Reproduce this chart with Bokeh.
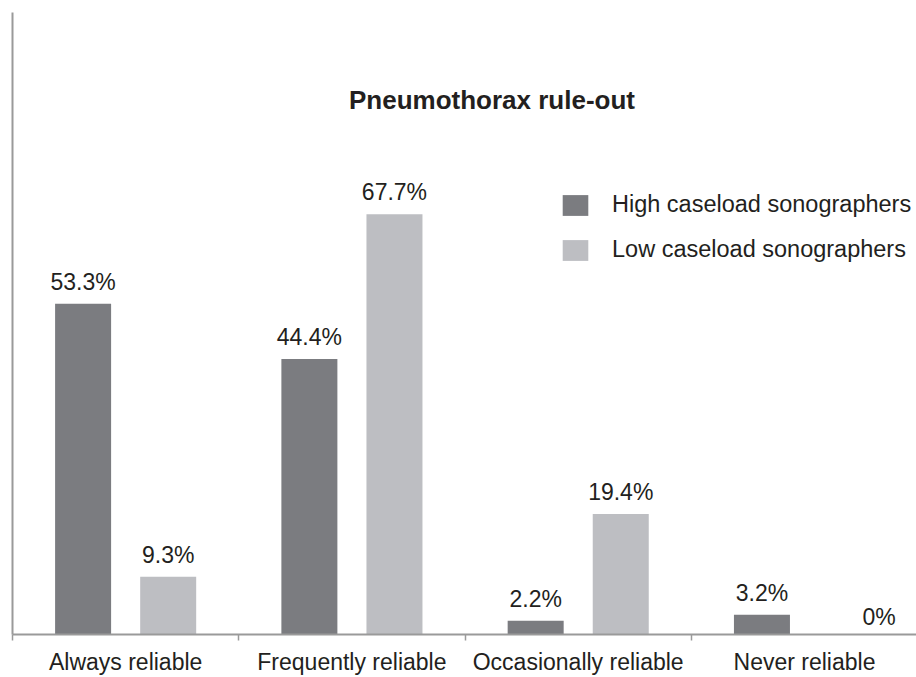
from bokeh.plotting import figure
from bokeh.models import Range1d, FixedTicker, ColumnDataSource, LabelSet, Label, Legend
from bokeh.transform import dodge
from bokeh.core.properties import value
from bokeh.embed import file_html
from bokeh.resources import INLINE

categories = ["Always reliable", "Frequently reliable", "Occasionally reliable", "Never reliable"]
high_caseload = [53.3, 44.4, 2.2, 3.2]
low_caseload = [9.3, 67.7, 19.4, 0.0]
high_labels = ["53.3%", "44.4%", "2.2%", "3.2%"]
low_labels = ["9.3%", "67.7%", "19.4%", "0%"]
series_names = ["High caseload sonographers", "Low caseload sonographers"]
title_text = "Pneumothorax rule-out"

DARK = "#7b7c80"
LIGHT = "#bdbec2"
TEXT = "#231f20"
AXIS = "#9a9a9a"
FONT = "Liberation Sans"

# label nudges (screen px), styling only
high_label_dx = [0, 0, 0, 0]
low_label_dx = [0, 0, 0, 32]
high_label_dy = [14, 14, 14, 14]
low_label_dy = [14, 14, 14, 10]

xs = [i + 0.5 for i in range(len(categories))]
src = ColumnDataSource(dict(x=xs, high=high_caseload, low=low_caseload,
                            hl=high_labels, ll=low_labels,
                            hdx=high_label_dx, ldx=low_label_dx,
                            hdy=high_label_dy, ldy=low_label_dy))

p = figure(width=916, height=677, output_backend="svg", toolbar_location=None,
           x_range=Range1d(0, 3.995), y_range=Range1d(0, 100.2),
           min_border_top=12, min_border_left=12, min_border_right=0, min_border_bottom=0)
p.background_fill_color = "white"
p.border_fill_color = "white"
p.outline_line_color = None
p.grid.visible = False

off = 0.188
w = 0.2475
r1 = p.vbar(x=dodge("x", -off, range=p.x_range), top="high", width=w, source=src,
            fill_color=DARK, line_color=None)
r2 = p.vbar(x=dodge("x", off, range=p.x_range), top="low", width=w, source=src,
            fill_color=LIGHT, line_color=None)

for col, o, topcol, dx, dy in (("hl", -off, "high", "hdx", "hdy"),
                               ("ll", off, "low", "ldx", "ldy")):
    ls = LabelSet(x=dodge("x", o, range=p.x_range), y=topcol, text=col, source=src,
                  x_offset=dx, y_offset=dy, text_align="center", text_baseline="alphabetic",
                  text_font=value(FONT), text_font_size=value("23px"), text_color=TEXT)
    p.add_layout(ls)

# x axis: labels at category centres, tick marks at boundaries
xa = p.xaxis[0]
xa.ticker = FixedTicker(ticks=xs, minor_ticks=list(range(len(categories) + 1)))
xa.major_label_overrides = {x: c for x, c in zip(xs, categories)}
xa.major_tick_out = 0
xa.major_tick_in = 0
xa.minor_tick_out = 6
xa.minor_tick_in = 0
xa.minor_tick_line_color = AXIS
xa.minor_tick_line_width = 1.5
xa.axis_line_color = AXIS
xa.axis_line_width = 2
xa.major_label_text_font = FONT
xa.major_label_text_font_size = "23px"
xa.major_label_text_color = TEXT
xa.major_label_standoff = 8

ya = p.yaxis[0]
ya.ticker = FixedTicker(ticks=[])
ya.major_tick_out = 0
ya.major_tick_in = 0
ya.minor_tick_out = 0
ya.minor_tick_in = 0
ya.axis_line_color = AXIS
ya.axis_line_width = 2
ya.major_label_text_font_size = "0px"
ya.major_label_standoff = 0

p.add_layout(Label(x=2.119, y=86.1, text=title_text, text_align="center",
                   text_baseline="middle", text_font=FONT, text_font_size="26px",
                   text_font_style="bold", text_color=TEXT))

legend = Legend(items=[(series_names[0], [r1]), (series_names[1], [r2])],
                location=(547, 371), orientation="vertical")
legend.padding = 0
legend.margin = 0
legend.border_line_color = None
legend.background_fill_alpha = 0
legend.label_text_font = FONT
legend.label_text_font_size = "23.5px"
legend.label_text_color = TEXT
legend.glyph_width = 32
legend.glyph_height = 26
legend.label_height = 26
legend.spacing = 18
legend.label_standoff = 21
p.add_layout(legend)

open("out.html", "w").write(file_html(p, INLINE))
